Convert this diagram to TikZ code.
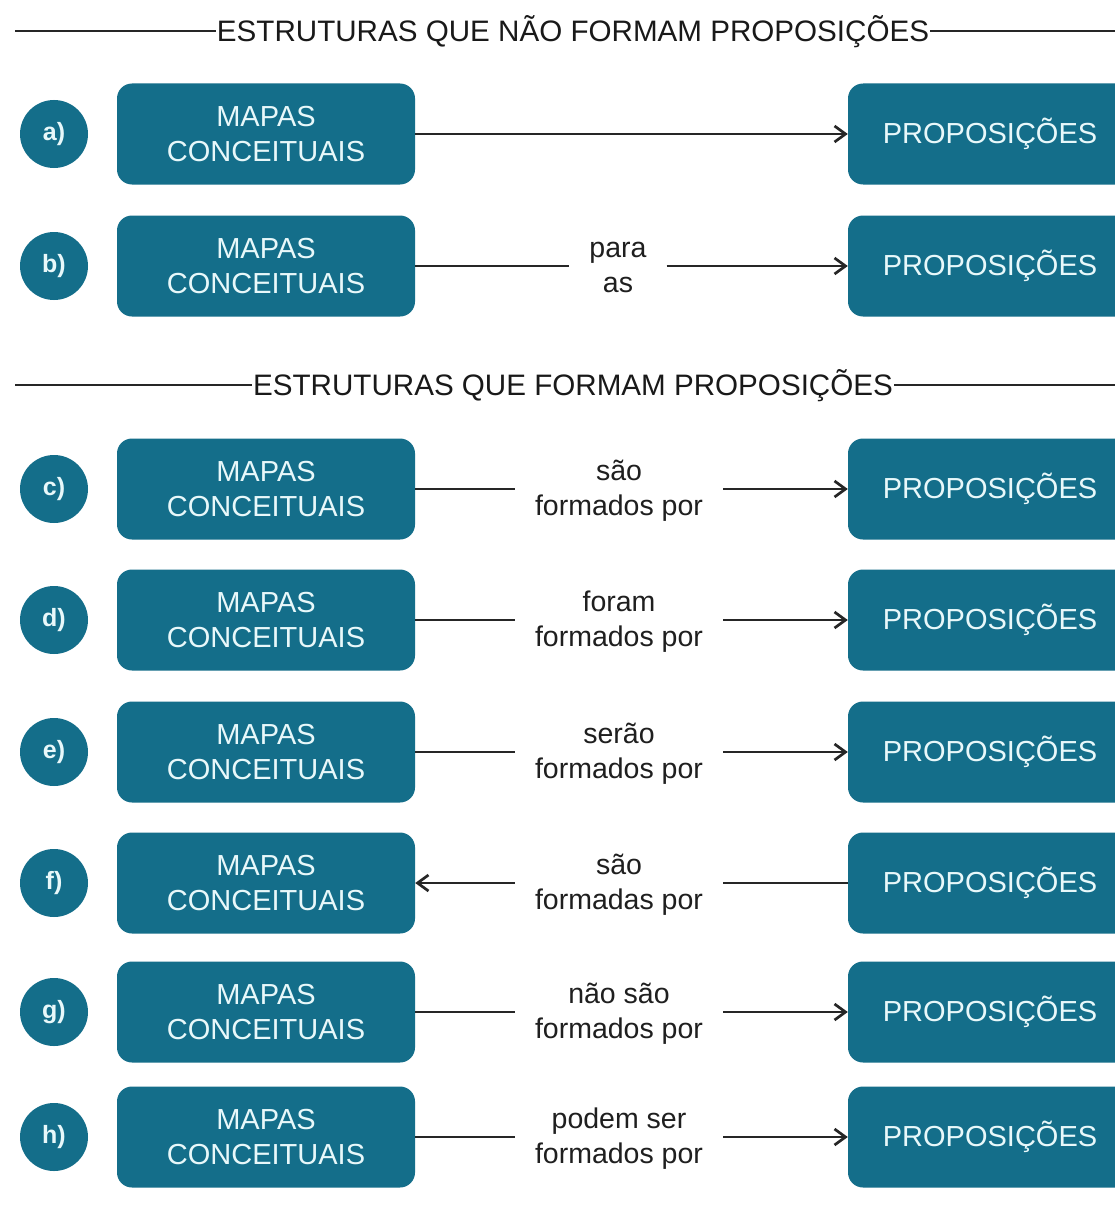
\documentclass[tikz,border=0pt]{standalone}
\usepackage{fontspec}
\setmainfont{Liberation Sans}
\usetikzlibrary{arrows.meta}
\definecolor{teal1}{RGB}{20,110,138}
\definecolor{boxtext}{RGB}{232,248,250}
\begin{document}
\begin{tikzpicture}[x=1pt,y=-1pt,
 concept/.style={draw=none, fill=teal1, rounded corners=15pt, text=boxtext, font=\fontsize{29}{35}\selectfont, align=center, minimum height=101pt, inner sep=0pt},
 mapbox/.style={concept, minimum width=298pt},
 propbox/.style={concept, minimum width=284pt},
 tag/.style={circle, fill=teal1, text=boxtext, minimum size=68pt, inner sep=0pt, font=\fontsize{25}{30}\selectfont\bfseries},
 linklabel/.style={font=\fontsize{28.5}{35}\selectfont, align=center, inner xsep=20pt, inner ysep=0pt, text=black!88},
 header/.style={font=\fontsize{29.6}{35}\selectfont, inner xsep=1pt, text height=21pt, text depth=0pt, inner ysep=0pt, text=black!90},
 conn/.style={line width=2.7pt, black!85},
 arr/.style={conn, -{Straight Barb[length=11pt,width=16pt]}}
]
\clip (0,0) rectangle (1115,1228);
\fill[white] (0,0) rectangle (1115,1228);

% headers
\node[header] (h1) at (573,31) {ESTRUTURAS QUE NÃO FORMAM PROPOSIÇÕES};
\coordinate (h1l) at (15,31);
\coordinate (h1r) at (1120,31);
\draw[conn] (h1l) -- (h1.west);
\draw[conn] (h1.east) -- (h1r);

\node[header] (h2) at (573,385) {ESTRUTURAS QUE FORMAM PROPOSIÇÕES};
\coordinate (h2l) at (15,385);
\coordinate (h2r) at (1120,385);
\draw[conn] (h2l) -- (h2.west);
\draw[conn] (h2.east) -- (h2r);

% rows: boxes and tags
\foreach \id/\y in {a/134,b/266,c/489,d/620,e/752,f/883,g/1012,h/1137}{
  \node[tag] (T\id) at (54,\y) {\id)};
  \node[mapbox] (L\id) at (266,\y) {MAPAS\\CONCEITUAIS};
  \node[propbox] (R\id) at (990,\y) {PROPOSIÇÕES};
}

% a)
\draw[arr] (La.east) -- (Ra.west);

% b)
\node[linklabel] (Kb) at (618,267) {para\\as};
\draw[conn] (Lb.east) -- (Kb.west |- Lb.east);
\draw[arr] (Kb.east |- Rb.west) -- (Rb.west);

% c, d, e, g, h
\foreach \id/\y/\lab in {c/489/{são\\formados por},d/620/{foram\\formados por},e/752/{serão\\formados por},g/1012/{não são\\formados por},h/1137/{podem ser\\formados por}}{
  \node[linklabel] (K\id) at (619,\y+1.5) {\lab};
  \draw[conn] (L\id.east) -- (K\id.west |- L\id.east);
  \draw[arr] (K\id.east |- R\id.west) -- (R\id.west);
}

% f) reversed
\node[linklabel] (Kf) at (619,884.5) {são\\formadas por};
\draw[arr] (Kf.west |- Lf.east) -- (Lf.east);
\draw[conn] (Rf.west) -- (Kf.east |- Rf.west);
\end{tikzpicture}
\end{document}
